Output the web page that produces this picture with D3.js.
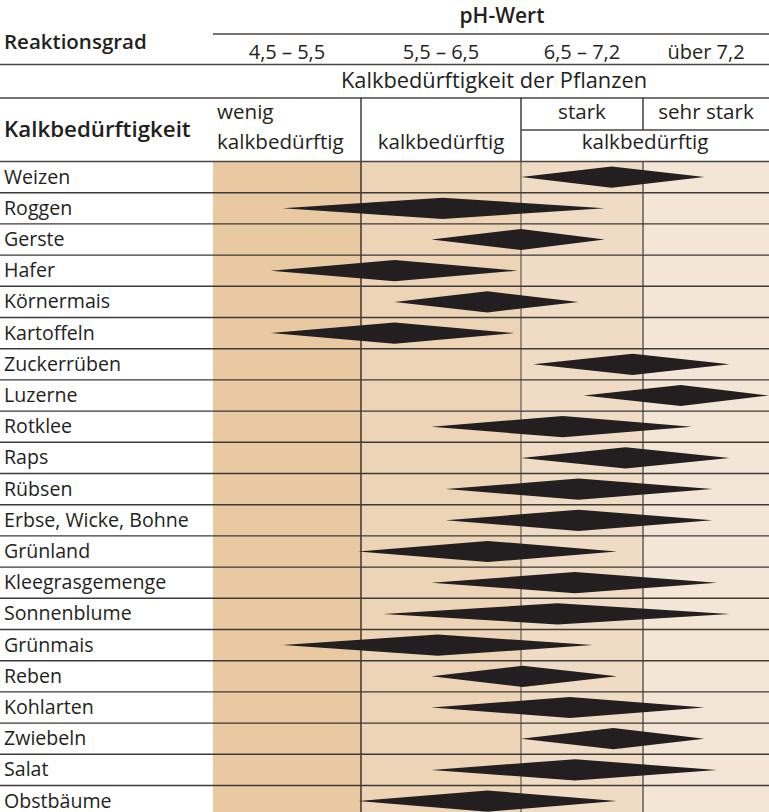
<!DOCTYPE html>
<html>
<head>
<meta charset="utf-8">
<script src="https://cdn.jsdelivr.net/npm/d3@7"></script>
<style>
  body { margin: 0; background: #fff; }
  svg { display: block; font-family: "Open Sans", "Noto Sans", sans-serif; }
</style>
</head>
<body>
<svg id="chart" width="769" height="812"></svg>
<script>
// crops, top to bottom
var crops = ["Weizen","Roggen","Gerste","Hafer","Körnermais","Kartoffeln","Zuckerrüben","Luzerne",
  "Rotklee","Raps","Rübsen","Erbse, Wicke, Bohne","Grünland","Kleegrasgemenge","Sonnenblume",
  "Grünmais","Reben","Kohlarten","Zwiebeln","Salat","Obstbäume"];

// pH range per crop: lower end, optimum (widest point), upper end
var phLow  = [6.5, 4.97, 5.94, 4.89, 5.71, 4.89, 6.57, 6.86, 5.94, 6.5, 6.03, 6.03, 5.48, 5.94, 5.64, 4.97, 5.94, 5.94, 6.5, 5.94, 5.48];
var phBest = [7.02, 6.01, 6.5, 5.71, 6.29, 5.71, 7.14, 7.44, 6.74, 7.1, 6.83, 6.83, 6.29, 6.81, 6.71, 5.98, 6.51, 6.78, 7.03, 6.81, 6.29];
var phHigh = [7.59, 6.98, 6.98, 6.48, 6.83, 6.46, 7.75, 8.0, 7.51, 7.75, 7.64, 7.64, 7.05, 7.67, 7.75, 6.91, 7.05, 7.59, 7.59, 7.67, 7.05];

// pH class borders and header texts
var phBreaks = [4.5, 5.5, 6.5, 7.2, 8.0];
var phLabels = ["4,5 – 5,5", "5,5 – 6,5", "6,5 – 7,2", "über 7,2"];
var bandFills = ["#e8c9a2", "#edd4b6", "#f0dcc5", "#f4e6d6"];

var W = 769, H = 812;
var ink = "#231f20";
var svg = d3.select("#chart");

// piecewise scale: each pH class has its own column width
var x = d3.scaleLinear().domain(phBreaks).range([213, 361, 521, 643, W]);
var y = d3.scaleBand().domain(crops).range([161.5, 161.5 + crops.length * 31.2]);

var bands = d3.range(phLabels.length).map(i => ({ a: phBreaks[i], b: phBreaks[i + 1], fill: bandFills[i], label: phLabels[i] }));

// column backgrounds
svg.append("g").selectAll("rect")
  .data(bands).enter().append("rect")
  .attr("x", d => x(d.a))
  .attr("y", y.range()[0])
  .attr("width", d => x(d.b) - x(d.a))
  .attr("height", H - y.range()[0])
  .attr("fill", d => d.fill);

// vertical dividers in body
svg.append("g").selectAll("line")
  .data(phBreaks.slice(1, 4)).enter().append("line")
  .attr("x1", d => x(d)).attr("x2", d => x(d))
  .attr("y1", y.range()[0]).attr("y2", H)
  .attr("stroke", (d, i) => ["#231f20", "#6b6560", "#4a4542"][i])
  .attr("stroke-width", 1.3);

// row lines
svg.append("g").selectAll("line")
  .data(crops.slice(1)).enter().append("line")
  .attr("x1", 0).attr("x2", W)
  .attr("y1", d => y(d)).attr("y2", d => y(d))
  .attr("stroke", "#3d3a38")
  .attr("stroke-width", 1.4);

// diamonds
var half = 10.6;
svg.append("g").selectAll("path")
  .data(crops).enter().append("path")
  .attr("d", (c, i) => {
    var cy = y(c) + y.bandwidth() / 2;
    return "M" + x(phLow[i]) + "," + cy +
      "L" + x(phBest[i]) + "," + (cy - half) +
      "L" + x(phHigh[i]) + "," + cy +
      "L" + x(phBest[i]) + "," + (cy + half) + "Z";
  })
  .attr("fill", ink);

// row labels
svg.append("g").selectAll("text")
  .data(crops).enter().append("text")
  .attr("x", 4)
  .attr("y", d => y(d) + 22)
  .attr("font-size", 19.6)
  .attr("fill", ink)
  .text(d => d);

// ---- header ----
var hd = svg.append("g").attr("fill", ink);
function hline(x1, x2, yy) {
  svg.append("line").attr("x1", x1).attr("x2", x2).attr("y1", yy).attr("y2", yy)
    .attr("stroke", "#4a4542").attr("stroke-width", 1.4);
}
function vline(xx, y1, y2) {
  svg.append("line").attr("x1", xx).attr("x2", xx).attr("y1", y1).attr("y2", y2)
    .attr("stroke", ink).attr("stroke-width", 1.3);
}
function txt(s, xx, yy, opt) {
  opt = opt || {};
  hd.append("text").attr("x", xx).attr("y", yy)
    .attr("text-anchor", opt.anchor || "start")
    .attr("font-size", opt.size || 20)
    .attr("font-weight", opt.weight || 400)
    .text(s);
}

txt("pH-Wert", (x(5.5) + x(7.2)) / 2, 23, { anchor: "middle", size: 21, weight: 600 });
hline(x(4.5), W, 34);
txt("Reaktionsgrad", 4, 49, { size: 20.5, weight: 600 });
bands.forEach(d => txt(d.label, (x(d.a) + x(d.b)) / 2, 59, { anchor: "middle", size: 20 }));
hline(0, W, 64.5);
txt("Kalkbedürftigkeit der Pflanzen", (x(4.5) + W) / 2 + 3, 88, { anchor: "middle", size: 21.8 });
hline(0, W, 98);

vline(x(5.5), 98, 161.5);
vline(x(6.5), 98, 161.5);
vline(x(7.2), 98, 130);
hline(x(6.5), W, 130);

txt("Kalkbedürftigkeit", 4, 137, { size: 22.3, weight: 600 });
txt("wenig", x(4.5) + 4, 118.5, { size: 20.6 });
txt("kalkbedürftig", x(4.5) + 4, 148.5, { size: 20.6 });
txt("kalkbedürftig", (x(5.5) + x(6.5)) / 2, 148.5, { anchor: "middle", size: 20.6 });
txt("stark", (x(6.5) + x(7.2)) / 2, 119, { anchor: "middle", size: 20.6 });
txt("sehr stark", (x(7.2) + W) / 2, 119, { anchor: "middle", size: 20.6 });
txt("kalkbedürftig", (x(6.5) + W) / 2, 148.5, { anchor: "middle", size: 20.6 });
hline(0, W, 161.5);
</script>
</body>
</html>
